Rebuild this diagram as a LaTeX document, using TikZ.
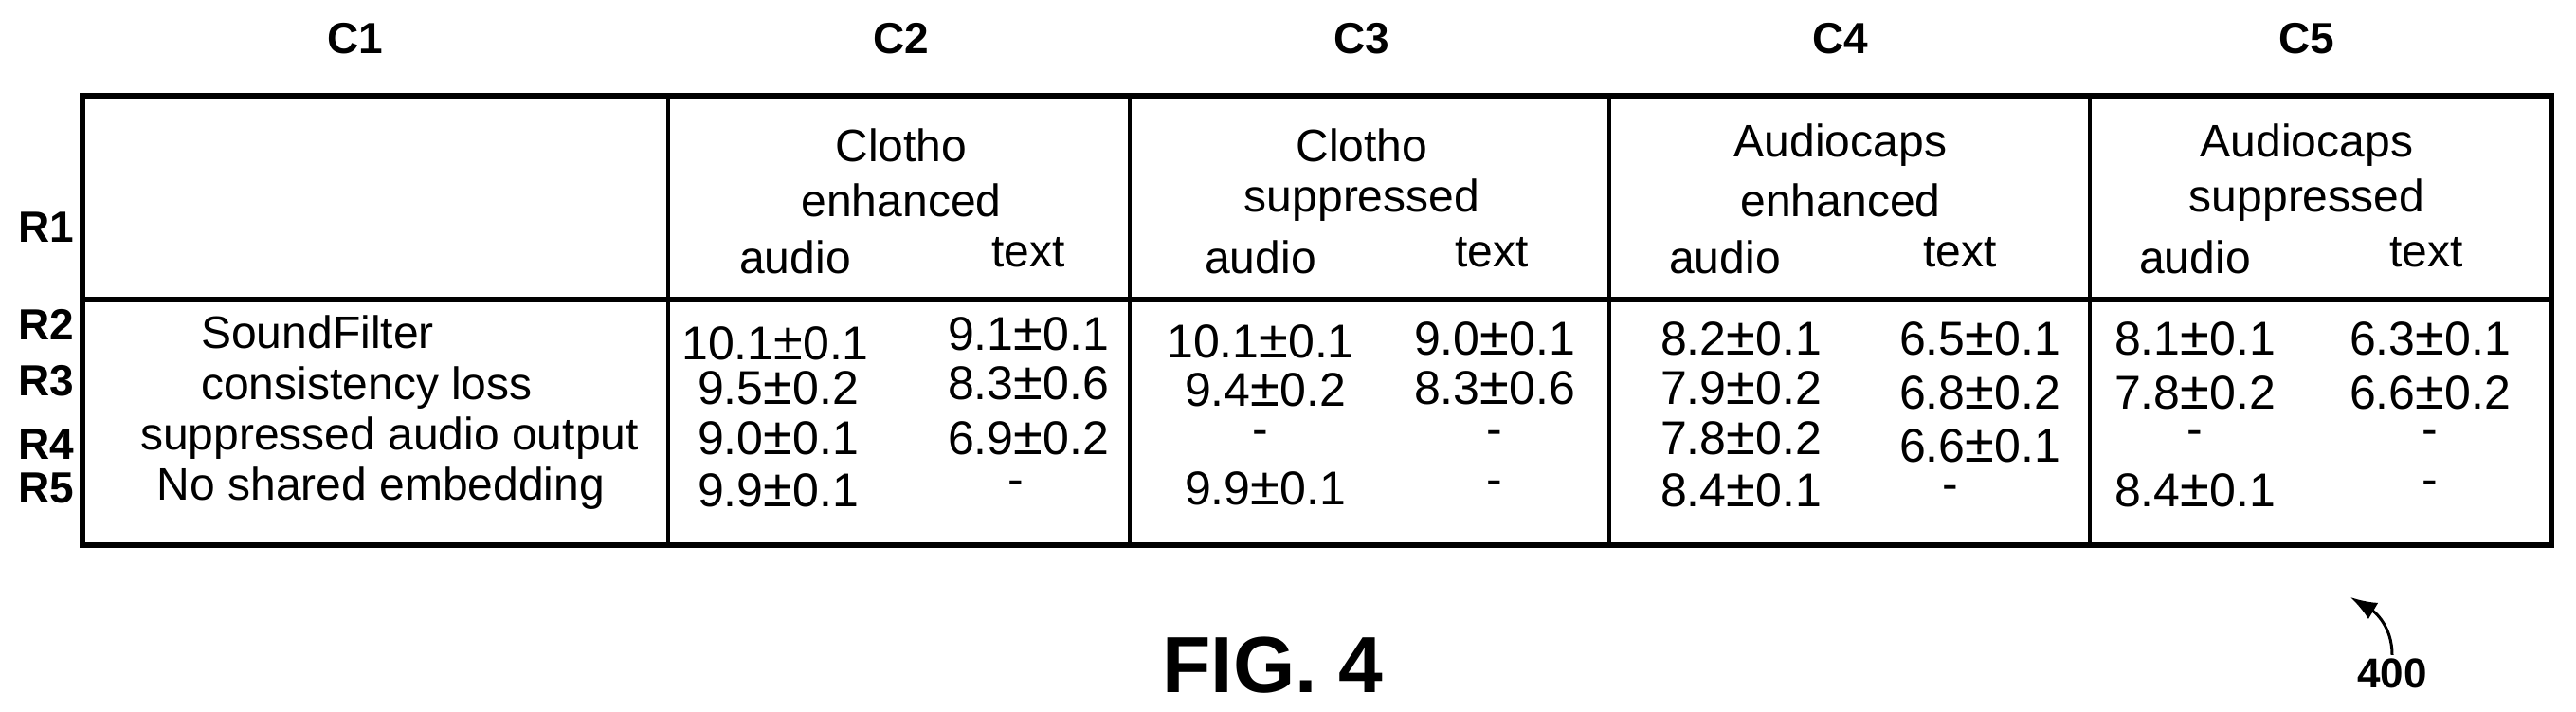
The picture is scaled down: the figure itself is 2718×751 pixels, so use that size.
\documentclass[tikz,border=0pt]{standalone}
\usepackage{fontspec}
\setmainfont{Liberation Sans}
\usetikzlibrary{arrows.meta}
\newcommand{\pmsign}{{\fontsize{56}{56}\selectfont ±}}
\begin{document}
\begin{tikzpicture}[x=1pt,y=-1pt,
  lbl/.style={font=\fontsize{46}{46}\selectfont\bfseries},
  txt/.style={font=\fontsize{48}{48}\selectfont},
  num/.style={font=\fontsize{50}{50}\selectfont},
  thickln/.style={line width=6pt},
  thinln/.style={line width=4.5pt}]
\useasboundingbox (0,0) rectangle (2718,751);
% table lines
\coordinate (TL) at (87,101); \coordinate (BR) at (2692,575);
\draw[thickln] (TL) rectangle (BR);
\coordinate (hl) at (87,316); \coordinate (hr) at (2692,316);
\draw[thickln] (hl) -- (hr);
\foreach \x/\n in {705/a,1192/b,1698/c,2205/d}{
  \coordinate (t\n) at (\x,101); \coordinate (b\n) at (\x,575);
  \draw[thinln] (t\n) -- (b\n);}
% column labels
\node[lbl] (c1) at (375,41) {C1};
\node[lbl] (c2) at (951,41) {C2};
\node[lbl] (c3) at (1437,41) {C3};
\node[lbl] (c4) at (1942,41) {C4};
\node[lbl] (c5) at (2434,41) {C5};
% row labels
\node[lbl] (r1) at (49,240) {R1};
\node[lbl] (r2) at (49,342) {R2};
\node[lbl] (r3) at (49,402) {R3};
\node[lbl] (r4) at (49,469) {R4};
\node[lbl] (r5) at (49,515) {R5};
% headers
\foreach \cx/\a/\b/\ax/\tx/\n in {951/Clotho/enhanced/839/1085/h2, 1437/Clotho/suppressed/1330/1574/h3, 1942/Audiocaps/enhanced/1820/2068/h4, 2434/Audiocaps/suppressed/2316/2560/h5}{
  \node[txt] (\n a) at (\cx,153) {\a};
  \node[txt] (\n b) at (\cx,211) {\b};
  \node[txt] (\n c) at (\ax,271) {audio};
  \node[txt] (\n d) at (\tx,266) {text};}
% row names
\node[txt] (s1) at (335,350) {SoundFilter};
\node[txt] (s2) at (387,409) {consistency loss};
\node[txt] (s3) at (411,462) {suppressed audio output};
\node[txt] (s4) at (402,515) {No shared embedding};
% values
\node[num] (v21) at (818,362) {10.1\pmsign0.1};
\node[num] (v22) at (1085,352) {9.1\pmsign0.1};
\node[num] (v23) at (1330,360) {10.1\pmsign0.1};
\node[num] (v24) at (1577,357) {9.0\pmsign0.1};
\node[num] (v25) at (1837,357) {8.2\pmsign0.1};
\node[num] (v26) at (2089,357) {6.5\pmsign0.1};
\node[num] (v27) at (2316,357) {8.1\pmsign0.1};
\node[num] (v28) at (2564,357) {6.3\pmsign0.1};
\node[num] (v31) at (821,409) {9.5\pmsign0.2};
\node[num] (v32) at (1085,404) {8.3\pmsign0.6};
\node[num] (v33) at (1335,411) {9.4\pmsign0.2};
\node[num] (v34) at (1577,409) {8.3\pmsign0.6};
\node[num] (v35) at (1837,409) {7.9\pmsign0.2};
\node[num] (v36) at (2089,414) {6.8\pmsign0.2};
\node[num] (v37) at (2316,414) {7.8\pmsign0.2};
\node[num] (v38) at (2564,414) {6.6\pmsign0.2};
\node[num] (v41) at (821,462) {9.0\pmsign0.1};
\node[num] (v42) at (1085,462) {6.9\pmsign0.2};
\node[num] (v43) at (1330,462) {-};
\node[num] (v44) at (1577,462) {-};
\node[num] (v45) at (1837,462) {7.8\pmsign0.2};
\node[num] (v46) at (2089,470) {6.6\pmsign0.1};
\node[num] (v47) at (2316,462) {-};
\node[num] (v48) at (2564,462) {-};
\node[num] (v51) at (821,517) {9.9\pmsign0.1};
\node[num] (v52) at (1072,515) {-};
\node[num] (v53) at (1335,515) {9.9\pmsign0.1};
\node[num] (v54) at (1577,515) {-};
\node[num] (v55) at (1837,517) {8.4\pmsign0.1};
\node[num] (v56) at (2058,520) {-};
\node[num] (v57) at (2316,517) {8.4\pmsign0.1};
\node[num] (v58) at (2564,515) {-};
% figure label and reference
\node[font=\fontsize{84}{84}\selectfont\bfseries] (fig) at (1343,702) {FIG. 4};
\node[font=\fontsize{44}{44}\selectfont\bfseries] (ref) at (2524,710) {400};
\coordinate (tip) at (2480,630);
\draw[line width=3pt,-{Latex[length=28pt,width=20pt]}] (ref.north) .. controls (2524,660) and (2505,645) .. (tip);
\end{tikzpicture}
\end{document}
